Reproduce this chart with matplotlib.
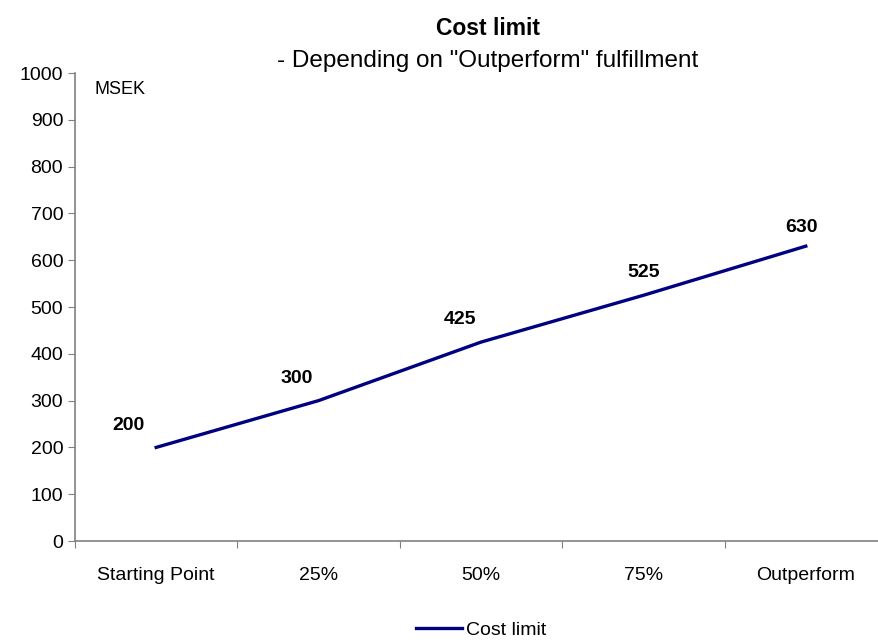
import matplotlib.pyplot as plt
import numpy as np

plt.rcParams['font.family'] = ['Liberation Sans', 'DejaVu Sans']

categories = ["Starting Point", "25%", "50%", "75%", "Outperform"]
cost_limit = [200, 300, 425, 525, 630]

fig = plt.figure(figsize=(8.79, 6.41), dpi=100)
ax = fig.add_axes([75/879, 100/641, 812/879, 468/641])

x = np.arange(len(categories)) + 0.5
ax.plot(x, cost_limit, color='#000080', linewidth=2.4, label='Cost limit')

# label offsets in points (manual placement as in the original)
offsets = [(-20, 10), (-16, 10), (-15, 10), (0, 10), (-3, 7)]
for xi, v, off in zip(x, cost_limit, offsets):
    ax.annotate(str(v), (xi, v), xytext=off, textcoords='offset points',
                ha='center', va='bottom', fontsize=14, fontweight='bold')

ax.set_xlim(0, len(categories))
ax.set_ylim(0, 1000)
ax.set_yticks(np.arange(0, 1001, 100))
ax.set_xticks(np.arange(0, len(categories) + 1))
ax.set_xticklabels([])
ax.set_xticks(x, minor=True)
ax.set_xticklabels(categories, minor=True)
ax.tick_params(axis='x', which='minor', length=0, pad=19, labelsize=14)
ax.tick_params(axis='x', which='major', direction='out', length=5, color='#808080')
ax.tick_params(axis='y', direction='out', length=5, color='#808080', labelsize=14)

for s in ['top', 'right']:
    ax.spines[s].set_visible(False)
for s in ['left', 'bottom']:
    ax.spines[s].set_color('#808080')
    ax.spines[s].set_linewidth(1.2)

ax.text(0.024, 0.983, 'MSEK', transform=ax.transAxes, fontsize=13,
        ha='left', va='top')

fig.text(0.555, 0.9454, 'Cost limit', ha='center', va='baseline', fontsize=16.5, fontweight='bold')
fig.text(0.555, 0.8955, '- Depending on "Outperform" fulfillment', ha='center', va='baseline', fontsize=17.5)

ax.legend(loc='center', bbox_to_anchor=(0.5, -0.19), frameon=False, fontsize=14,
          handlelength=2.4, handletextpad=0.2)

fig.savefig('out.png', dpi=100)
